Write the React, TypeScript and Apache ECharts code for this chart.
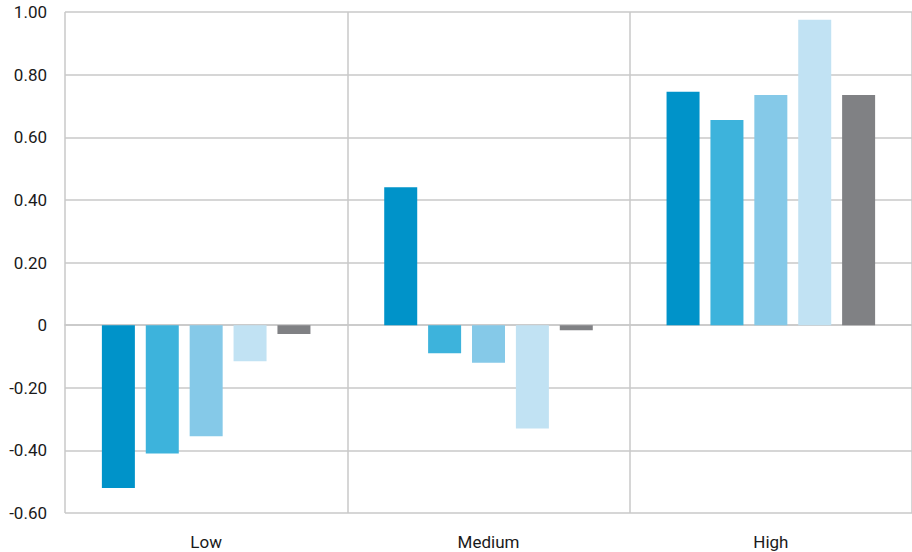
import React, { useEffect, useRef } from "react";
import * as echarts from "echarts";

const categories = ["Low", "Medium", "High"];
const seriesNames = ["Series 1", "Series 2", "Series 3", "Series 4", "Series 5"];
const series1 = [-0.52, 0.44, 0.745];
const series2 = [-0.41, -0.09, 0.655];
const series3 = [-0.355, -0.12, 0.735];
const series4 = [-0.115, -0.33, 0.975];
const series5 = [-0.028, -0.016, 0.735];
const colors = ["#0093c9", "#3db3dc", "#85c9e8", "#c1e2f3", "#808184"];

export default function App() {
  const ref = useRef<HTMLDivElement>(null);
  useEffect(() => {
    if (!ref.current) return;
    const chart = echarts.init(ref.current, undefined, { renderer: "svg" });
    const all = [series1, series2, series3, series4, series5];
    chart.setOption({
      animation: false,
      textStyle: { fontFamily: "Roboto" },
      grid: { left: 65, right: 0, top: 12, bottom: 39, containLabel: false },
      xAxis: {
        type: "category",
        data: categories,
        axisLine: { show: true, lineStyle: { color: "#c8c8c8", width: 1.5 } },
        axisTick: { show: false },
        splitLine: { show: true, lineStyle: { color: "#c8c8c8", width: 1.5 } },
        axisLabel: { color: "#1a1a1a", fontSize: 17, margin: 20, fontFamily: "Roboto" },
      },
      yAxis: {
        type: "value",
        min: -0.6,
        max: 1.0,
        interval: 0.2,
        axisLine: { show: false },
        axisTick: { show: false },
        splitLine: { show: true, lineStyle: { color: "#c8c8c8", width: 1.5 } },
        axisLabel: {
          color: "#1a1a1a",
          fontSize: 17,
          margin: 18,
          fontFamily: "Roboto",
          formatter: (v: number) => (Math.abs(v) < 1e-9 ? "0" : v.toFixed(2)),
        },
      },
      series: all.map((d, i) => ({
        name: seriesNames[i],
        type: "bar",
        data: d,
        barWidth: 33,
        barGap: "33%",
        itemStyle: { color: colors[i] },
      })),
    });
    return () => chart.dispose();
  }, []);
  return <div ref={ref} style={{ width: 912, height: 552, position: "absolute", left: 0, top: 0 }} />;
}
